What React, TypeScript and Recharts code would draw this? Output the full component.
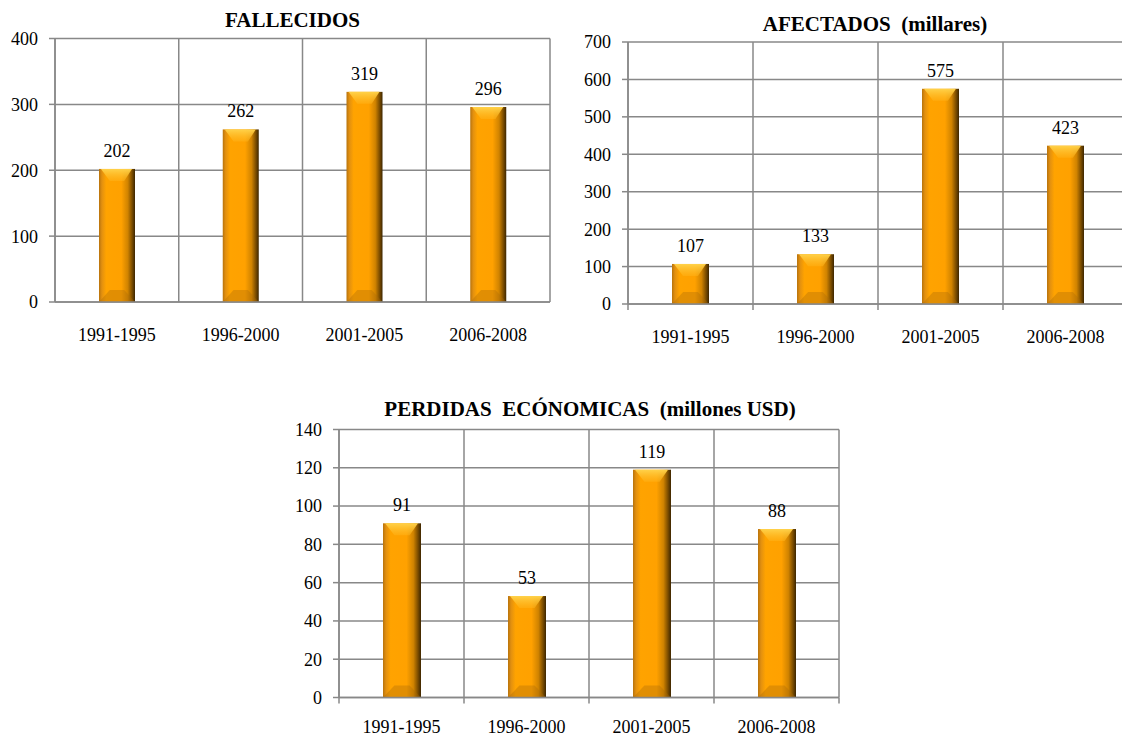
import { BarChart, Bar, XAxis, YAxis, CartesianGrid, LabelList } from 'recharts';

const periods = ['1991-1995', '1996-2000', '2001-2005', '2006-2008'];
const fallecidos = [202, 262, 319, 296];
const afectados = [107, 133, 575, 423];
const perdidas = [91, 53, 119, 88];
const fallecidosTicks = [0, 100, 200, 300, 400];
const afectadosTicks = [0, 100, 200, 300, 400, 500, 600, 700];
const perdidasTicks = [0, 20, 40, 60, 80, 100, 120, 140];

const SERIF = "'Liberation Serif', 'Times New Roman', serif";
const GRID = '#888888';

type PanelProps = {
  id: string;
  title: string;
  values: number[];
  ticks: number[];
  left: number;
  top: number;
  width: number;
  height: number;
  margin: { top: number; right: number; left: number; bottom: number };
  yWidth: number;
  xHeight: number;
  barSize: number;
  xMarks: boolean;
  labelDy: number;
  titleX: number;
  titleTop: number;
};

// bevelled "3D" bar like the office chart style
function BevelBar(props: any) {
  const { x, y, width, height, index, chartId } = props;
  if (!height || height <= 0) return null;
  const gid = `${chartId}-grad-${index}`;
  const tid = `${chartId}-top-${index}`;
  const inset = width * 0.3;
  const bev = Math.min(12, height / 3);
  return (
    <g>
      <defs>
        <linearGradient id={gid} x1="0" y1="0" x2="1" y2="0">
          <stop offset="0" stopColor="#b8730c" />
          <stop offset="0.08" stopColor="#e29010" />
          <stop offset="0.2" stopColor="#ffa300" />
          <stop offset="0.62" stopColor="#ffa100" />
          <stop offset="0.8" stopColor="#d08300" />
          <stop offset="0.92" stopColor="#7a4c00" />
          <stop offset="1" stopColor="#3d2600" />
        </linearGradient>
        <linearGradient id={tid} x1="0" y1="0" x2="0" y2="1">
          <stop offset="0" stopColor="#ffd24a" />
          <stop offset="1" stopColor="#ffb31a" stopOpacity="0.5" />
        </linearGradient>
      </defs>
      <rect x={x} y={y} width={width} height={height} fill={`url(#${gid})`} />
      <polygon
        points={`${x + 2},${y} ${x + width - 3},${y} ${x + width - inset},${y + bev} ${x + inset},${y + bev}`}
        fill={`url(#${tid})`}
      />
      <polygon
        points={`${x + inset},${y + height - bev} ${x + width - inset},${y + height - bev} ${x + width},${y + height} ${x},${y + height}`}
        fill="#a86a08"
        opacity={0.35}
      />
    </g>
  );
}

function CategoryTick(props: any) {
  const { x, y, payload, index, band, marks, count, dy } = props;
  return (
    <g>
      {marks && (
        <line x1={x - band / 2} x2={x - band / 2} y1={y} y2={y + 6} stroke={GRID} strokeWidth={1.5} />
      )}
      {marks && index === count - 1 && (
        <line x1={x + band / 2} x2={x + band / 2} y1={y} y2={y + 6} stroke={GRID} strokeWidth={1.5} />
      )}
      <text x={x} y={y + dy} textAnchor="middle" fontSize={18} fontFamily={SERIF} fill="#000">
        {payload.value}
      </text>
    </g>
  );
}

function Panel(p: PanelProps) {
  const data = periods.map((period, i) => ({ period, value: p.values[i] }));
  const plotWidth = p.width - p.margin.left - p.margin.right - p.yWidth;
  const band = plotWidth / periods.length;
  const max = p.ticks[p.ticks.length - 1];
  return (
    <>
      <div
        style={{
          position: 'absolute',
          left: p.titleX - 300,
          top: p.titleTop,
          width: 600,
          textAlign: 'center',
          fontFamily: SERIF,
          fontWeight: 'bold',
          fontSize: 21,
          lineHeight: '21px',
          whiteSpace: 'pre',
          color: '#000',
        }}
      >
        {p.title}
      </div>
      <div style={{ position: 'absolute', left: p.left, top: p.top }}>
        <BarChart width={p.width} height={p.height} data={data} margin={p.margin}>
          <CartesianGrid
            stroke={GRID}
            strokeWidth={1.5}
            verticalCoordinatesGenerator={({ offset }: any) =>
              periods.map((_, i) => offset.left + i * (offset.width / periods.length)).concat(offset.left + offset.width)
            }
          />
          <XAxis
            dataKey="period"
            height={p.xHeight}
            axisLine={{ stroke: GRID, strokeWidth: 1.5 }}
            tickLine={false}
            tickSize={0}
            tickMargin={0}
            interval={0}
            tick={(t: any) => (
              <CategoryTick {...t} band={band} marks={p.xMarks} count={periods.length} dy={p.labelDy} />
            )}
          />
          <YAxis
            width={p.yWidth}
            domain={[0, max]}
            ticks={p.ticks}
            interval={0}
            axisLine={{ stroke: GRID, strokeWidth: 1.5 }}
            tickLine={{ stroke: GRID, strokeWidth: 1.5 }}
            tickSize={6}
            tickMargin={11}
            tick={{ fontSize: 18, fontFamily: SERIF, fill: '#000' }}
          />
          <Bar
            dataKey="value"
            barSize={p.barSize}
            isAnimationActive={false}
            shape={(s: any) => <BevelBar {...s} chartId={p.id} />}
          >
            <LabelList dataKey="value" position="top" offset={12} fill="#000" fontSize={18} fontFamily={SERIF} />
          </Bar>
        </BarChart>
      </div>
    </>
  );
}

export default function App() {
  return (
    <div
      style={{
        position: 'absolute',
        left: 0,
        top: 0,
        width: 1122,
        height: 738,
        overflow: 'hidden',
        background: '#fff',
      }}
    >
      <Panel
        id="fal"
        title="FALLECIDOS"
        values={fallecidos}
        ticks={fallecidosTicks}
        left={0}
        top={0}
        width={560}
        height={350}
        margin={{ top: 38.5, right: 10, left: 0, bottom: 8 }}
        yWidth={55}
        xHeight={40}
        barSize={36}
        xMarks={false}
        labelDy={39}
        titleX={292.5}
        titleTop={10}
      />
      <Panel
        id="afe"
        title="AFECTADOS  (millares)"
        values={afectados}
        ticks={afectadosTicks}
        left={560}
        top={0}
        width={570}
        height={350}
        margin={{ top: 42, right: 2, left: 0, bottom: 6 }}
        yWidth={68}
        xHeight={40}
        barSize={37}
        xMarks={true}
        labelDy={39}
        titleX={875}
        titleTop={14}
      />
      <Panel
        id="per"
        title="PERDIDAS  ECÓNOMICAS  (millones USD)"
        values={perdidas}
        ticks={perdidasTicks}
        left={270}
        top={390}
        width={580}
        height={348}
        margin={{ top: 39.5, right: 11, left: 0, bottom: 6.5 }}
        yWidth={69}
        xHeight={34}
        barSize={38}
        xMarks={true}
        labelDy={35}
        titleX={590}
        titleTop={398.5}
      />
    </div>
  );
}
